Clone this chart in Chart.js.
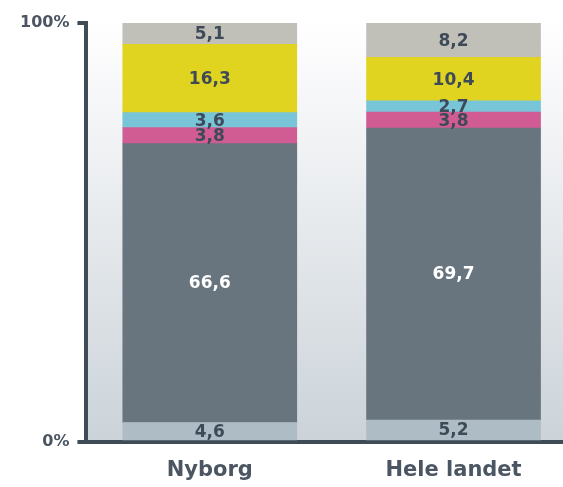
<!DOCTYPE html>
<html>
<head>
<meta charset="utf-8">
<script src="https://cdn.jsdelivr.net/npm/chart.js@4.4.1/dist/chart.umd.min.js"></script>
<style>
	html, body { margin: 0; padding: 0; background: #fff; }
	#wrap { width: 563px; height: 487px; }
</style>
</head>
<body>
<div id="wrap"><canvas id="chart"></canvas></div>
<script>
var categories = ["Nyborg", "Hele landet"];
var yTicks = [0, 100];
// segments from bottom to top, in percent
var bundGraa = [4.6, 5.2];
var morkGraa = [66.6, 69.7];
var pink = [3.8, 3.8];
var lysBlaa = [3.6, 2.7];
var gul = [16.3, 10.4];
var beige = [5.1, 8.2];

var axisColor = "#3f4b57";
var textColor = "#3e4a58";

function toPoints(arr){
	return arr.map(function(v, i){ return {x: i, y: v}; });
}

function segment(arr, color, labelColor){
	return {
		data: toPoints(arr),
		backgroundColor: color,
		borderWidth: 0,
		barThickness: 174,
		labelColor: labelColor
	};
}

// light gradient behind the plot area
var backdrop = {
	id: "backdrop",
	beforeDraw: function(chart){
		var a = chart.chartArea, ctx = chart.ctx;
		var g = ctx.createLinearGradient(0, a.top, 0, a.bottom);
		g.addColorStop(0, "#ffffff");
		g.addColorStop(0.08, "#fbfbfc");
		g.addColorStop(1, "#cbd3d9");
		ctx.save();
		ctx.fillStyle = g;
		ctx.fillRect(a.left, 0, a.right - a.left, a.bottom);
		ctx.restore();
	}
};

// numbers inside each segment
var valueLabels = {
	id: "valueLabels",
	afterDatasetsDraw: function(chart){
		var ctx = chart.ctx;
		ctx.save();
		ctx.font = "bold 17px 'DejaVu Sans'";
		ctx.textAlign = "center";
		ctx.textBaseline = "middle";
		chart.data.datasets.forEach(function(ds, di){
			var meta = chart.getDatasetMeta(di);
			meta.data.forEach(function(bar, i){
				ctx.fillStyle = ds.labelColor;
				var txt = ds.data[i].y.toFixed(1).replace(".", ",");
				ctx.fillText(txt, bar.x, (bar.y + bar.base) / 2 + 1);
			});
		});
		ctx.restore();
	}
};

new Chart(document.getElementById("chart"), {
	type: "bar",
	data: {
		datasets: [
			segment(bundGraa, "#aebcc5", textColor),
			segment(morkGraa, "#68757f", "#ffffff"),
			segment(pink, "#d05c93", textColor),
			segment(lysBlaa, "#78c5d8", textColor),
			segment(gul, "#e0d420", textColor),
			segment(beige, "#c1c0b8", textColor)
		]
	},
	options: {
		responsive: true,
		maintainAspectRatio: false,
		animation: false,
		layout: {padding: {left: 12, right: 0, top: 23, bottom: -12}},
		plugins: {legend: {display: false}, tooltip: {enabled: false}},
		scales: {
			x: {
				type: "linear",
				stacked: true,
				offset: false,
				min: -0.506,
				max: 1.449,
				afterBuildTicks: function(s){
					s.ticks = categories.map(function(c, i){ return {value: i}; });
				},
				ticks: {
					callback: function(v){ return categories[v]; },
					font: {family: "DejaVu Sans", size: 21, weight: "bold", lineHeight: 1.2},
					color: "#4b5662",
					padding: 16,
					maxRotation: 0,
					autoSkip: false
				},
				grid: {display: false, drawTicks: false, offset: false},
				border: {display: true, color: axisColor, width: 4}
			},
			y: {
				stacked: true,
				min: 0,
				max: 100,
				afterBuildTicks: function(s){
					s.ticks = yTicks.map(function(v){ return {value: v}; });
				},
				ticks: {
					callback: function(v){ return v + "%"; },
					font: {family: "DejaVu Sans", size: 16, weight: "bold"},
					color: "#4b5662",
					padding: 8
				},
				grid: {drawOnChartArea: false, color: axisColor, lineWidth: 4, tickLength: 9},
				border: {display: true, color: axisColor, width: 4}
			}
		}
	},
	plugins: [backdrop, valueLabels]
});
</script>
</body>
</html>
